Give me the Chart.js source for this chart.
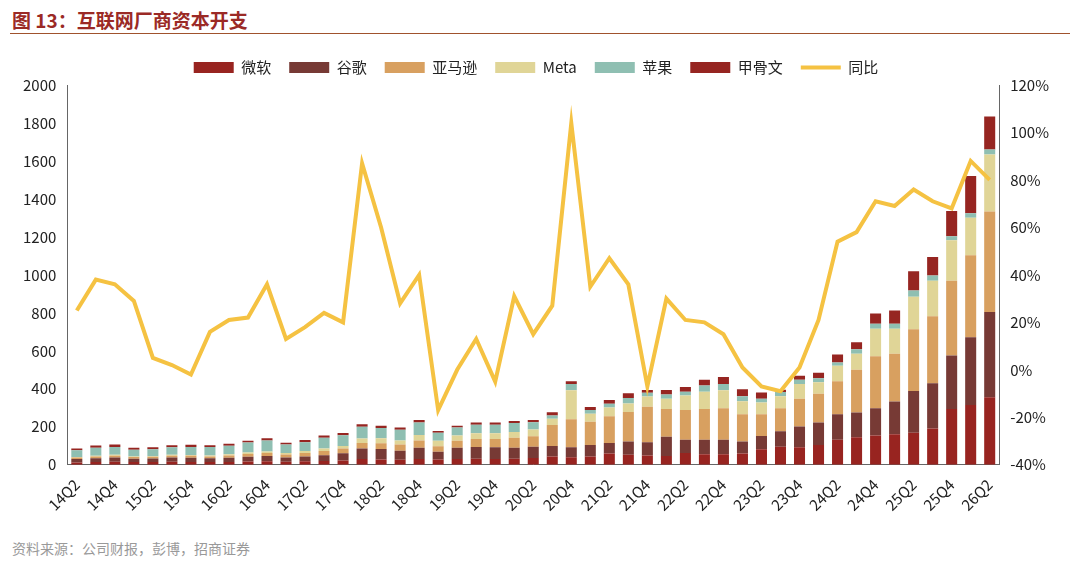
<!DOCTYPE html>
<html lang="zh">
<head>
<meta charset="UTF-8">
<title>互联网厂商资本开支</title>
<script src="https://cdn.jsdelivr.net/npm/chart.js"></script>
<style>
  body { margin: 0; width: 1080px; height: 570px; background: #fff; font-family: "Noto Sans CJK SC", sans-serif; position: relative; overflow: hidden; }
  #title { position: absolute; left: 12px; top: 6px; font-size: 19px; font-weight: bold; color: #9B2A26; }
  #rule { position: absolute; left: 10px; right: 10px; top: 33px; border-top: 1.5px solid #A0522D; }
  #src { position: absolute; left: 12px; top: 538px; font-size: 14px; color: #999; }
  #wrap { position: absolute; left: 0; top: 42px; width: 1080px; height: 475px; }
</style>
</head>
<body>
<div id="title">图 13：互联网厂商资本开支</div>
<div id="rule"></div>
<div id="wrap"><canvas id="chart"></canvas></div>
<div id="src">资料来源：公司财报，彭博，招商证券</div>
<script>
// quarters 14Q2 .. 26Q2
const quarters = [];
for (let y = 14; y <= 26; y++) {
  for (let q = 1; q <= 4; q++) {
    if ((y === 14 && q < 2) || (y === 26 && q > 2)) continue;
    quarters.push(y + 'Q' + q);
  }
}

const microsoft = [12,14,16,14,15,16,15,14,15,17,18,16,18,20,22,30,28,26,30,28,30,32,30,32,35,
  44,40,44,59,53,49,46,62,55,55,59,82,95,92,104,132,145,154,161,169,191,293,315,355];
const google = [18,20,22,18,18,22,22,20,22,25,28,22,26,30,38,56,55,48,60,40,60,62,62,58,60,
  55,52,60,55,70,70,101,70,77,77,64,70,81,110,119,134,130,143,172,219,238,282,357,449];
const amazon = [8,9,10,9,9,10,10,10,12,14,16,16,18,22,25,28,30,32,38,30,36,42,44,52,55,
  110,148,123,142,155,187,146,156,161,165,143,114,121,146,151,174,225,275,251,325,353,394,431,530];
const meta = [3,4,4,3,3,4,4,5,6,8,8,8,10,14,14,24,26,22,28,28,28,30,30,30,35,
  33,152,42,46,44,53,55,77,92,95,69,62,64,77,60,82,84,144,132,172,187,213,198,300];
const apple = [35,43,42,35,36,40,43,44,45,53,58,44,47,56,56,62,54,56,67,42,42,45,45,48,39,
  18,33,19,19,30,20,22,20,33,33,26,20,22,22,22,17,24,26,26,33,28,22,24,26];
const oracle = [10,11,12,11,11,11,11,10,10,10,11,10,11,12,12,13,12,12,12,10,10,11,11,11,11,
  17,15,16,20,24,15,24,24,29,37,37,33,12,22,28,42,37,55,70,101,97,132,196,174];
const yoy = [25,38,36,29,5,2,-2,16,21,22,36,13,18,24,20,87,60,28,40,-17,0,13,-5,31,15,
  27,104,35,47,36,-7,30,21,20,15,1,-7,-9,1,21,54,58,71,69,76,71,68,88,80];

const font = { family: '"Noto Sans CJK SC", sans-serif', size: 15 };
const barBase = { type: 'bar', yAxisID: 'y', stack: 's', barPercentage: 0.58, categoryPercentage: 1, order: 2, pointStyle: 'rect' };

new Chart(document.getElementById('chart'), {
  data: {
    labels: quarters,
    datasets: [
      { ...barBase, label: '微软', data: microsoft, backgroundColor: '#982420' },
      { ...barBase, label: '谷歌', data: google, backgroundColor: '#773A35' },
      { ...barBase, label: '亚马逊', data: amazon, backgroundColor: '#D8A060' },
      { ...barBase, label: 'Meta', data: meta, backgroundColor: '#E0D597' },
      { ...barBase, label: '苹果', data: apple, backgroundColor: '#8FBFB2' },
      { ...barBase, label: '甲骨文', data: oracle, backgroundColor: '#962521' },
      { type: 'line', label: '同比', data: yoy, yAxisID: 'y1', borderColor: '#F5C242', backgroundColor: '#F5C242',
        borderWidth: 4, pointRadius: 0, pointStyle: 'line', tension: 0, order: 1 }
    ]
  },
  options: {
    responsive: true,
    maintainAspectRatio: false,
    animation: false,
    layout: { padding: { left: 20, right: 28, top: 0, bottom: 0 } },
    plugins: {
      legend: {
        position: 'top',
        labels: {
          font: font, color: '#222', usePointStyle: true, pointStyleWidth: 40, boxHeight: 11, padding: 18,
          sort: (a, b) => a.datasetIndex - b.datasetIndex
        }
      },
      tooltip: { enabled: false }
    },
    scales: {
      x: {
        grid: { display: false },
        border: { color: '#666' },
        ticks: {
          font: font, color: '#222', maxRotation: 45, minRotation: 45, autoSkip: false,
          callback: function (v, i) { return i % 2 === 0 ? this.getLabelForValue(v) : ''; }
        }
      },
      y: {
        position: 'left', min: 0, max: 2000,
        grid: { display: false },
        border: { color: '#666' },
        ticks: { stepSize: 200, font: font, color: '#222', callback: v => String(v) }
      },
      y1: {
        position: 'right', min: -40, max: 120,
        grid: { display: false },
        border: { color: '#666' },
        ticks: { stepSize: 20, font: font, color: '#222', callback: v => v + '%' }
      }
    }
  }
});
</script>
</body>
</html>
